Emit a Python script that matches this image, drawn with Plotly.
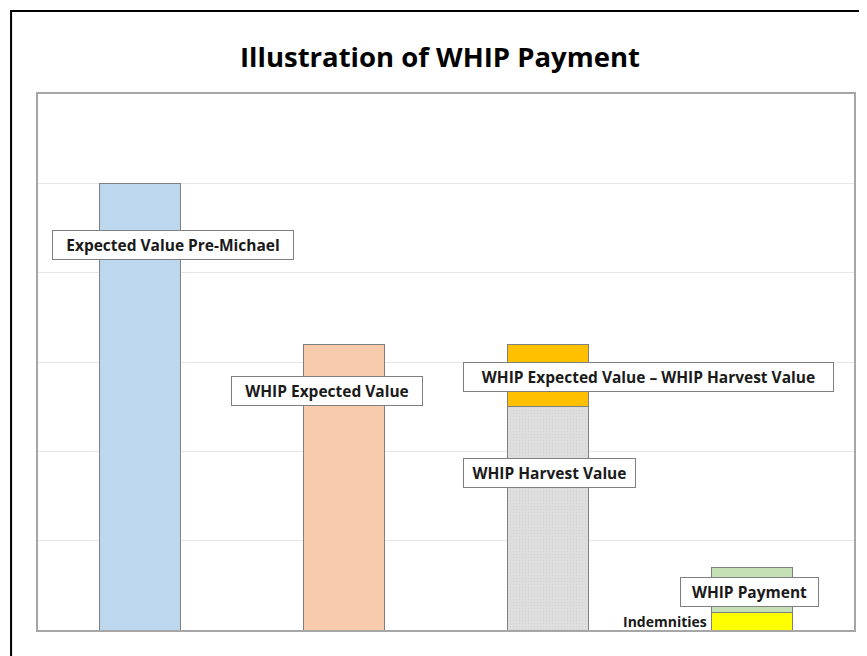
import plotly.graph_objects as go

categories = ["Pre-Michael", "WHIP Expected", "WHIP Harvest", "WHIP Payment"]
expected_pre_michael = [5.0, 0, 0, 0]
whip_expected = [0, 3.2, 0, 0]
whip_harvest = [0, 0, 2.5, 0]
expected_minus_harvest = [0, 0, 0.7, 0]
indemnities = [0, 0, 0, 0.2]
whip_payment = [0, 0, 0, 0.5]

x = list(range(len(categories)))
outline = dict(color="#808080", width=1)
FONT = "Open Sans"

# page body has an 8px margin; figure is sized so the plot lands where the reference has it
W, H = 859, 648
OFF = 8
L, R, T, B = 38 - OFF, W - (856 - OFF), 94 - OFF, H - (630 - OFF)
PW, PH = W - L - R, H - T - B

fig = go.Figure()
fig.add_bar(x=x, y=expected_pre_michael, marker=dict(color="#bdd7ee", line=outline), width=0.4)
fig.add_bar(x=x, y=whip_expected, marker=dict(color="#f8cbad", line=outline), width=0.4)
fig.add_bar(x=x, y=whip_harvest, marker=dict(color="#d9d9d9", line=outline,
            pattern=dict(shape=".", size=3, solidity=0.1, fgcolor="#bdbdbd", bgcolor="#dedede")), width=0.4)
fig.add_bar(x=x, y=expected_minus_harvest, marker=dict(color="#ffc000", line=outline), width=0.4)
fig.add_bar(x=x, y=indemnities, marker=dict(color="#ffff00", line=outline), width=0.4)
fig.add_bar(x=x, y=whip_payment, marker=dict(color="#c5e0b4", line=outline), width=0.4)

box = dict(bgcolor="white", bordercolor="#7f7f7f", borderwidth=1, borderpad=3,
           showarrow=False, font=dict(family=FONT, size=15.5, color="#1a1a1a"))
labels = [
    ("Expected Value Pre-Michael", 0.16, 4.31, 234),
    ("WHIP Expected Value", 0.918, 2.675, 184),
    ("WHIP Expected Value \u2013 WHIP Harvest Value", 2.493, 2.83, 363),
    ("WHIP Harvest Value", 2.009, 1.757, 165),
    ("WHIP Payment", 2.99, 0.425, 131),
]
for text, ax, ay, w in labels:
    fig.add_annotation(x=ax, y=ay, text="<b>%s</b>" % text, width=w, **box)
fig.add_annotation(x=2.79, y=0.1, text="<b>Indemnities</b>", xanchor="right", showarrow=False,
                   font=dict(family=FONT, size=14, color="#1a1a1a"))

fig.update_layout(
    width=W, height=H,
    margin=dict(l=L, r=R, t=T, b=B),
    barmode="stack",
    showlegend=False,
    paper_bgcolor="white", plot_bgcolor="white",
    title=dict(text="<b>Illustration of WHIP Payment</b>", x=(440 - OFF) / W, xanchor="center",
               y=1 - (57 - OFF) / H, yanchor="middle", font=dict(family=FONT, size=27.5, color="black")),
    xaxis=dict(range=[-0.5, 3.5], showticklabels=False, showgrid=False, zeroline=False,
               showline=True, linecolor="#a6a6a6", linewidth=2, mirror=True, ticks=""),
    yaxis=dict(range=[0, 6], showticklabels=False, showgrid=True, gridcolor="#e6e6e6",
               dtick=1, zeroline=False, showline=True, linecolor="#a6a6a6", linewidth=2,
               mirror=True, ticks=""),
    shapes=[dict(type="rect", xref="paper", yref="paper",
                 x0=(11 - 38) / PW, x1=(890 - 38) / PW,
                 y0=-0.5, y1=(630 - 11) / PH,
                 line=dict(color="black", width=2), fillcolor="rgba(0,0,0,0)", layer="below")],
)

fig.write_html("out.html")
